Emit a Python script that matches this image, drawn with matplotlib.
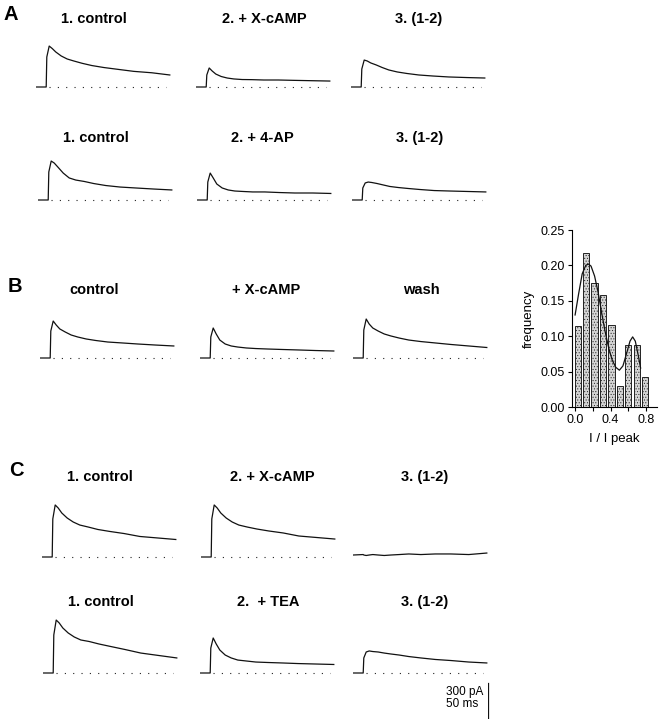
import matplotlib
matplotlib.use("Agg")
from matplotlib import pyplot as plt

plt.rcParams["font.family"] = ["Liberation Sans", "DejaVu Sans"]
plt.rcParams["hatch.color"] = "#8a8a8a"
plt.rcParams["hatch.linewidth"] = 0.4

W, H = 664, 719
MS_PER_PX = 50 / 30      # 50 ms scale bar
PA_PER_PX = 300 / 35     # 300 pA scale bar

# shared sample times (ms from start of each sweep)
t_ms = [0, 17, 18, 22, 27, 33, 42, 52, 63, 77, 93, 113, 137, 163, 193, 223]
zero_line_ms = [22, 217]

# currents (pA) read from each sweep
a1_control = [0, 0, 257, 351, 330, 300, 266, 240, 223, 203, 184, 167, 151, 134, 122, 103]
a1_xcamp = [0, 0, 103, 163, 137, 111, 90, 77, 69, 64, 63, 60, 60, 57, 54, 51]
a1_diff = [0, 0, 154, 231, 223, 206, 189, 167, 146, 129, 116, 103, 94, 86, 81, 77]
a2_control = [0, 0, 240, 334, 317, 283, 231, 189, 171, 159, 141, 124, 111, 103, 94, 86]
a2_4ap = [0, 0, 154, 231, 189, 137, 103, 86, 77, 73, 69, 69, 64, 60, 60, 56]
a2_diff = [0, 0, 103, 146, 154, 150, 141, 129, 116, 107, 99, 90, 81, 77, 73, 69]
b_control = [0, 0, 231, 317, 283, 249, 223, 197, 180, 163, 150, 137, 129, 120, 111, 103]
b_xcamp = [0, 0, 180, 257, 206, 154, 120, 103, 94, 86, 81, 77, 73, 69, 64, 60]
b_wash = [0, 0, 240, 334, 291, 257, 231, 206, 189, 171, 154, 141, 129, 116, 103, 90]
c1_control = [0, 0, 326, 446, 420, 377, 334, 300, 274, 257, 236, 219, 201, 176, 163, 150]
c1_xcamp = [0, 0, 326, 446, 420, 377, 334, 300, 274, 257, 240, 223, 206, 180, 167, 154]
c1_diff = [17, 21, 17, 13, 17, 21, 17, 13, 17, 21, 26, 21, 26, 26, 21, 34]
c2_control = [0, 0, 326, 454, 429, 386, 343, 309, 283, 270, 249, 227, 201, 171, 150, 129]
c2_tea = [0, 0, 214, 300, 249, 197, 154, 129, 111, 103, 94, 90, 86, 81, 77, 73]
c2_diff = [0, 0, 129, 180, 189, 184, 180, 171, 163, 154, 141, 129, 116, 107, 94, 86]

# histogram of I / I peak
bin_centers = [0.03, 0.125, 0.22, 0.315, 0.41, 0.505, 0.60, 0.695, 0.79]
freq = [0.115, 0.217, 0.175, 0.158, 0.116, 0.029, 0.088, 0.088, 0.043]
fit_x = [0.00, 0.04, 0.08, 0.12, 0.15, 0.18, 0.22, 0.26, 0.30, 0.34, 0.38,
         0.42, 0.46, 0.50, 0.54, 0.58, 0.62, 0.65, 0.68, 0.71, 0.74]
fit_y = [0.130, 0.160, 0.188, 0.200, 0.202, 0.199, 0.185, 0.162, 0.133, 0.106, 0.083,
         0.066, 0.056, 0.052, 0.058, 0.075, 0.093, 0.099, 0.093, 0.075, 0.055]

# layout: (title, sweep, title x, step x) per row, with title y and baseline y
rows = [
    (19, 87, [("1. control", a1_control, 94, 46), ("2. + X-cAMP", a1_xcamp, 264, 206),
              ("3. (1-2)", a1_diff, 419, 361)]),
    (138, 200, [("1. control", a2_control, 96, 48), ("2. + 4-AP", a2_4ap, 262, 207),
                ("3. (1-2)", a2_diff, 420, 362)]),
    (290, 358, [("control", b_control, 94, 50), ("+ X-cAMP", b_xcamp, 266, 210),
                ("wash", b_wash, 421, 363)]),
    (477, 557, [("1. control", c1_control, 100, 52), ("2. + X-cAMP", c1_xcamp, 272, 211),
                ("3. (1-2)", c1_diff, 425, 363)]),
    (602, 673, [("1. control", c2_control, 101, 53), ("2.  + TEA", c2_tea, 268, 210),
                ("3. (1-2)", c2_diff, 425, 363)]),
]
panel_letters = [("A", 11, 14), ("B", 15, 287), ("C", 16, 470)]

fig = plt.figure(figsize=(W / 100, H / 100), dpi=100)


def trace_ax(step_x, base_y, w_px=150, h_px=70, pad=6):
    left = step_x - 10
    ax = fig.add_axes([left / W, 1 - (base_y + pad) / H, w_px / W, h_px / H])
    ax.set_xlim(0, w_px * MS_PER_PX)
    ax.set_ylim(-pad * PA_PER_PX, (h_px - pad) * PA_PER_PX)
    ax.axis("off")
    return ax


for title_y, base_y, sweeps in rows:
    for title, sweep, tx, sx in sweeps:
        fig.text(tx / W, 1 - title_y / H, title, ha="center", va="center",
                 fontsize=10.5, fontweight="bold")
        ax = trace_ax(sx, base_y)
        ax.plot(t_ms, sweep, color="#111111", lw=0.9)
        if sweep is not c1_diff:
            ax.plot(zero_line_ms, [0, 0], color="#222222", lw=0.8,
                    linestyle=(0, (1, 6.5)))

for letter, lx, ly in panel_letters:
    fig.text(lx / W, 1 - ly / H, letter, ha="center", va="center",
             fontsize=14.5, fontweight="bold")

# scale bar (vertical 300 pA)
sax = trace_ax(498, 718, w_px=60, h_px=40, pad=1)
sax.plot([0, 0], [0, 300], color="#111111", lw=0.9)
fig.text(483 / W, 1 - 692 / H, "300 pA", ha="right", va="center", fontsize=8.5)
fig.text(478 / W, 1 - 704 / H, "50 ms", ha="right", va="center", fontsize=8.5)

# histogram
hax = fig.add_axes([572 / W, 1 - 407 / H, 85 / W, 177 / H])
hax.bar(bin_centers, freq, width=0.07, color="#d4d4d4", edgecolor="#222222",
        lw=0.7, hatch="......")
hax.plot(fit_x, fit_y, color="#111111", lw=0.9)
hax.set_xlim(-0.035, 0.925)
hax.set_ylim(0, 0.25)
hax.set_xticks([0.0, 0.4, 0.8])
hax.set_xticks([0.2, 0.6], minor=True)
hax.set_xticklabels(["0.0", "0.4", "0.8"])
hax.set_yticks([0.0, 0.05, 0.10, 0.15, 0.20, 0.25])
hax.set_yticklabels(["0.00", "0.05", "0.10", "0.15", "0.20", "0.25"])
hax.tick_params(which="both", direction="out", length=3, width=0.8,
                labelsize=9, pad=2)
for side in ("top", "right"):
    hax.spines[side].set_visible(False)
for side in ("left", "bottom"):
    hax.spines[side].set_linewidth(0.8)
hax.set_ylabel("frequency", fontsize=9.5, labelpad=4)
hax.set_xlabel("I / I peak", fontsize=9.5, labelpad=5)

fig.savefig("out.png", dpi=100)
plt.close(fig)
